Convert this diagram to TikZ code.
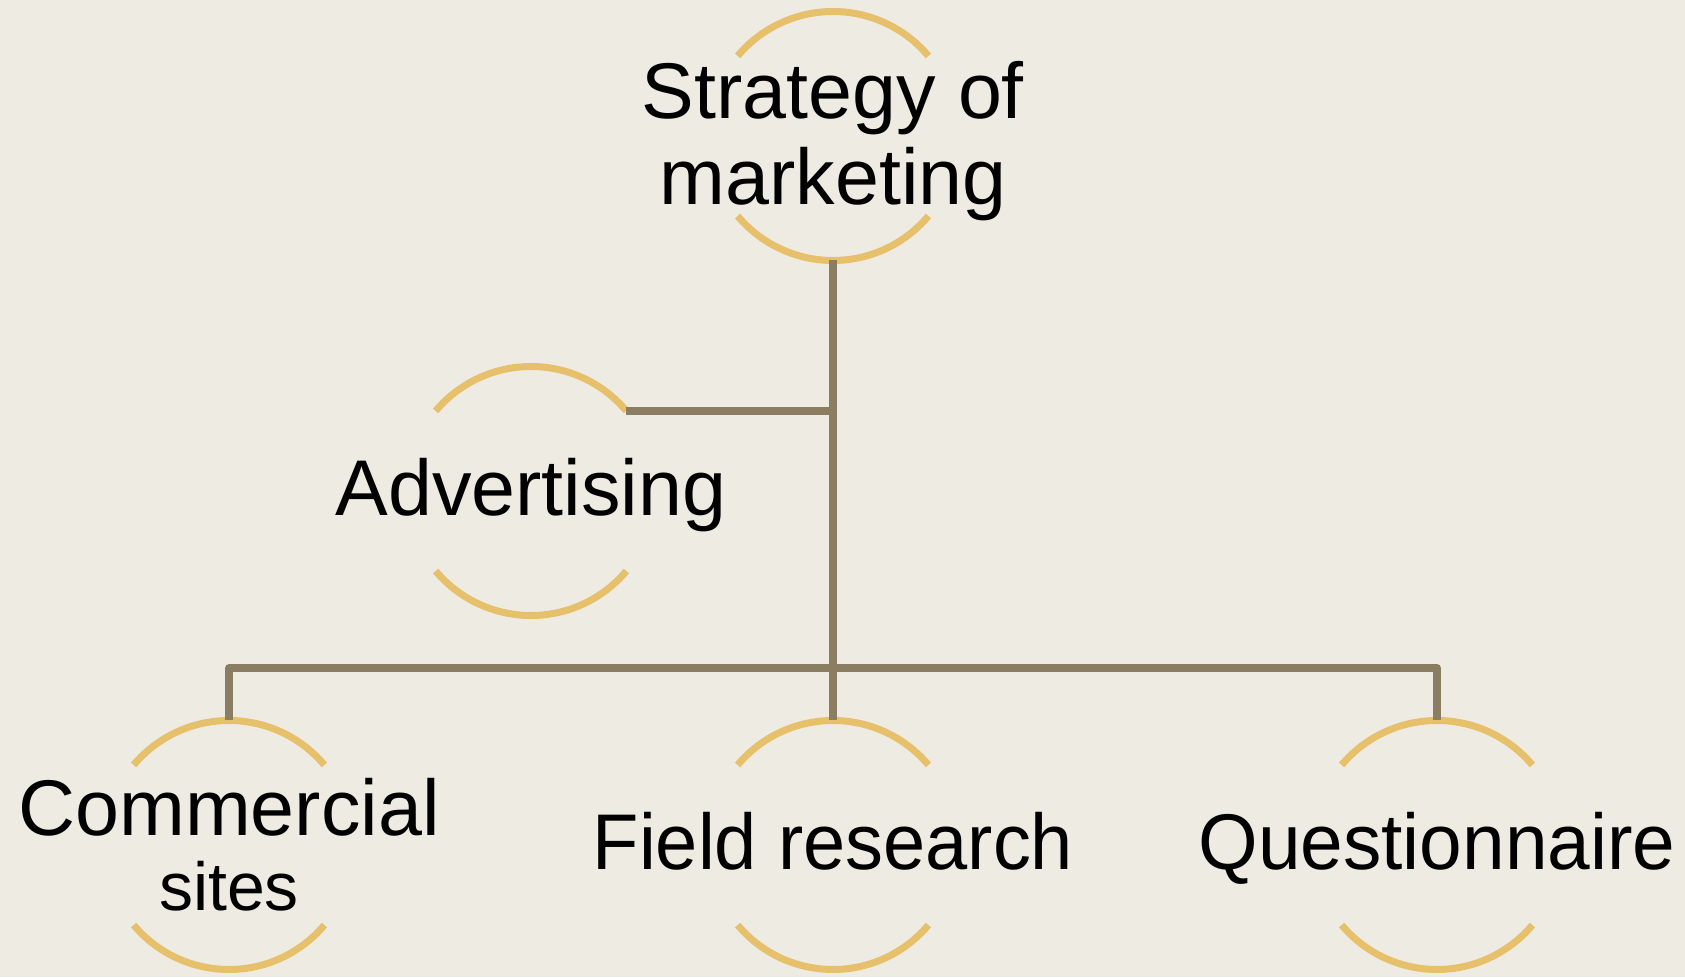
\documentclass[tikz,border=0pt]{standalone}
\usepackage{fontspec}
\setmainfont{Liberation Sans}
\definecolor{bg}{HTML}{EEEBE3}
\definecolor{gold}{HTML}{E6C06A}
\definecolor{conn}{HTML}{8B7D62}
\tikzset{
  ring/.style={circle, minimum size=249pt, inner sep=0pt, outer sep=0pt},
  arcs/.style={draw=gold, line width=7pt},
  lbl/.style={inner sep=0pt, outer sep=0pt, align=center, anchor=base, text=black,
              font=\fontsize{79}{86}\selectfont},
  link/.style={draw=conn, line width=7.5pt, line join=round},
}
\newcommand{\ringarcs}[1]{%
  \draw[arcs] (#1.40) arc[start angle=40, end angle=140, radius=124.5];
  \draw[arcs] (#1.220) arc[start angle=220, end angle=320, radius=124.5];
}
\begin{document}
\begin{tikzpicture}[x=1pt, y=1pt]
  \path[fill=bg, use as bounding box] (0,0) rectangle (1685,977);

  % rings
  \node[ring] (topR) at (833,841) {};
  \node[ring] (advR) at (531,486) {};
  \node[ring] (comR) at (229,132) {};
  \node[ring] (fieldR) at (833,132) {};
  \node[ring] (questR) at (1437,132) {};
  \ringarcs{topR}
  \ringarcs{advR}
  \ringarcs{comR}
  \ringarcs{fieldR}
  \ringarcs{questR}

  % labels (base anchor = baseline of last line)
  \node[lbl] (topT) at (833,772) {Strategy of\\marketing};
  \node[lbl] (advT) at (531,461) {Advertising};
  \node[lbl] (comT) at (229,67) {Commercial\\[-11pt]{\fontsize{68}{77}\selectfont sites}};
  \node[lbl, xscale=0.96] (fieldT) at (833,108) {Field research};
  \node[lbl, xscale=0.97] (questT) at (1437,108) {Questionnaire};

  % connectors
  \coordinate (bus) at (833,309);
  \draw[link] (topR.south) -- (fieldR.north);
  \draw[link] (comR.north) |- (bus) -| (questR.north);
  \draw[link] (advR.40) -- (advR.40 -| topR.south);
\end{tikzpicture}
\end{document}
